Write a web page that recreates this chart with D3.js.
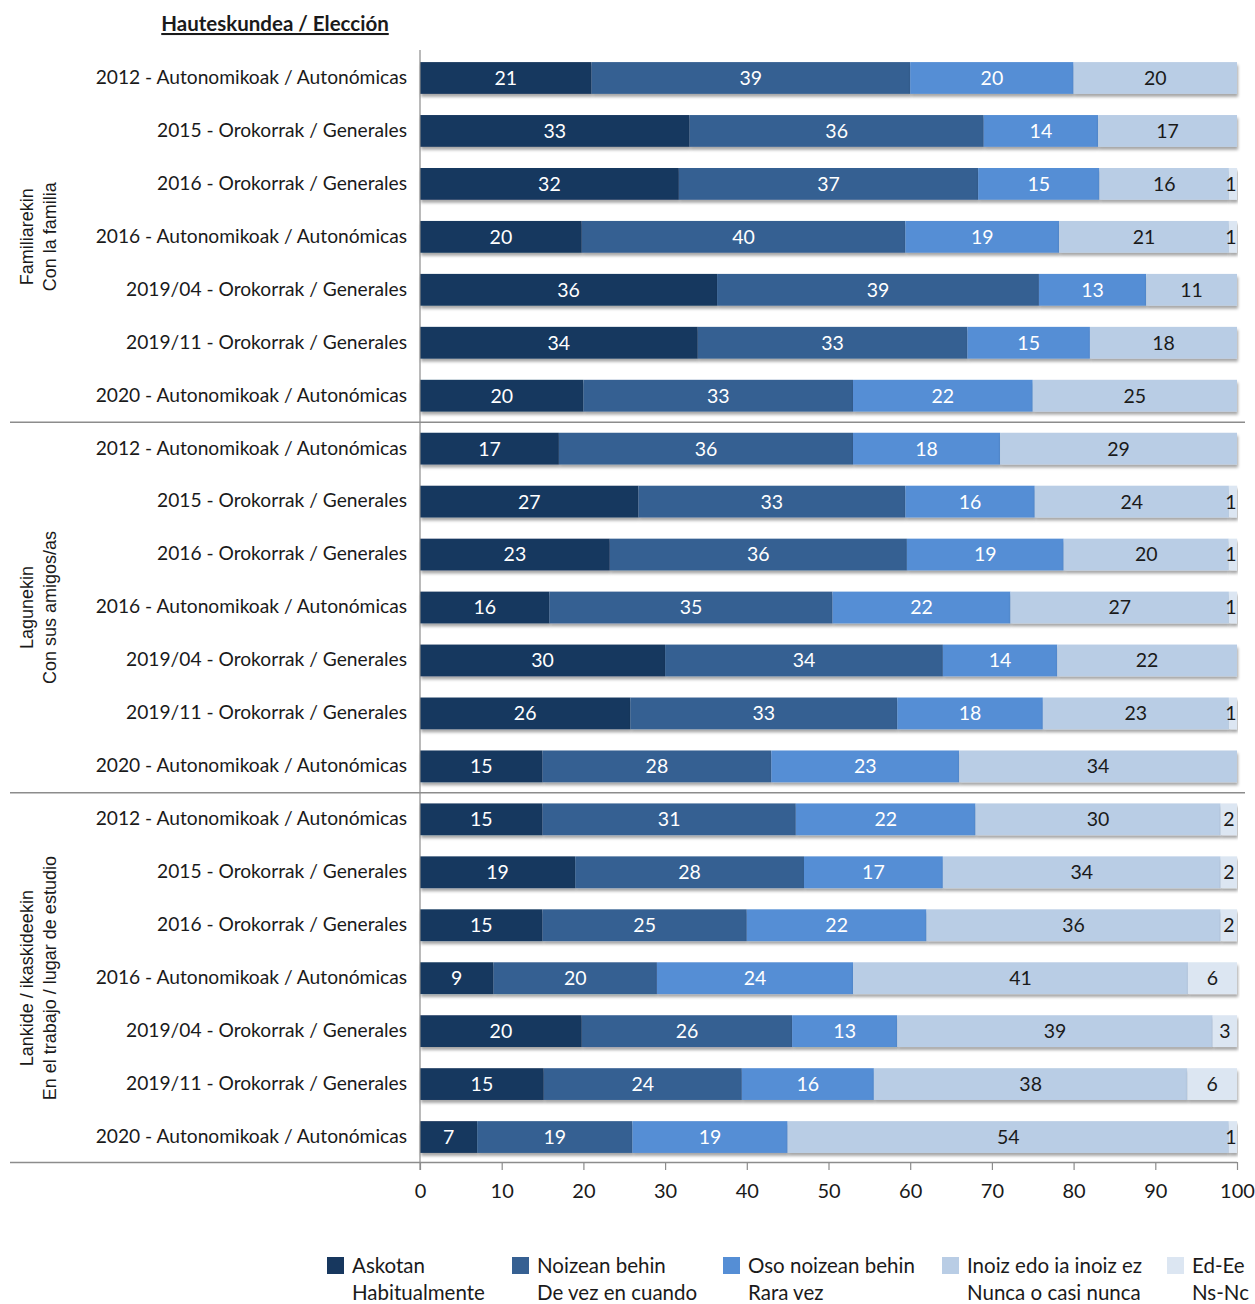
<!DOCTYPE html>
<html><head><meta charset="utf-8">
<script src="https://cdn.jsdelivr.net/npm/d3@7"></script>
<style>body{margin:0;background:#fff}svg{display:block}</style>
</head><body>
<svg id="chart" width="1255" height="1304"></svg>
<script>
const elections = [
  "2012 - Autonomikoak / Autonómicas",
  "2015 - Orokorrak / Generales",
  "2016 - Orokorrak / Generales",
  "2016 - Autonomikoak / Autonómicas",
  "2019/04 - Orokorrak / Generales",
  "2019/11 - Orokorrak / Generales",
  "2020 - Autonomikoak / Autonómicas"
];
const groups = [
  ["Familiarekin", "Con la familia"],
  ["Lagunekin", "Con sus amigos/as"],
  ["Lankide / ikaskideekin", "En el trabajo / lugar de estudio"]
];
const seriesNames = [
  ["Askotan", "Habitualmente"],
  ["Noizean behin", "De vez en cuando"],
  ["Oso noizean behin", "Rara vez"],
  ["Inoiz edo ia inoiz ez", "Nunca o casi nunca"],
  ["Ed-Ee", "Ns-Nc"]
];
const colors = ["#17375e", "#366092", "#558ed5", "#b9cde5", "#dce6f2"];
const labelColors = ["#ffffff", "#ffffff", "#ffffff", "#1a1a1a", "#1a1a1a"];
// values per group: rows = elections, columns = series
const familia = [
  [21, 39, 20, 20, 0],
  [33, 36, 14, 17, 0],
  [32, 37, 15, 16, 1],
  [20, 40, 19, 21, 1],
  [36, 39, 13, 11, 0],
  [34, 33, 15, 18, 0],
  [20, 33, 22, 25, 0]
];
const amigos = [
  [17, 36, 18, 29, 0],
  [27, 33, 16, 24, 1],
  [23, 36, 19, 20, 1],
  [16, 35, 22, 27, 1],
  [30, 34, 14, 22, 0],
  [26, 33, 18, 23, 1],
  [15, 28, 23, 34, 0]
];
const trabajo = [
  [15, 31, 22, 30, 2],
  [19, 28, 17, 34, 2],
  [15, 25, 22, 36, 2],
  [9, 20, 24, 41, 6],
  [20, 26, 13, 39, 3],
  [15, 24, 16, 38, 6],
  [7, 19, 19, 54, 1]
];
const xTicks = [0, 10, 20, 30, 40, 50, 60, 70, 80, 90, 100];

const groupData = [familia, amigos, trabajo];
const rows = [];
groupData.forEach((g, gi) => g.forEach((vals, ei) => {
  rows.push({ key: gi + "-" + ei, group: gi, label: elections[ei], vals });
}));

const svg = d3.select("#chart");
const font = "Lato, 'Open Sans', sans-serif";

const defs = svg.append("defs");
const f = defs.append("filter").attr("id", "sh").attr("x", "-5%").attr("y", "-20%").attr("width", "110%").attr("height", "160%");
f.append("feDropShadow").attr("dx", 1).attr("dy", 3).attr("stdDeviation", 1.5).attr("flood-color", "#000").attr("flood-opacity", 0.35);

const x = d3.scaleLinear().domain([0, 100]).range([420, 1237]);
const y = d3.scaleBand().domain(rows.map(r => r.key)).range([51.5, 1163.5]).paddingInner(0.4).paddingOuter(0.2);

// stacked, normalized to 100
const stacked = rows.map(r => {
  const tot = d3.sum(r.vals);
  let acc = 0;
  return r.vals.map((v, i) => {
    const s = { row: r, i, v, x0: acc / tot * 100, x1: (acc + v) / tot * 100 };
    acc += v;
    return s;
  });
});

const barG = svg.append("g");
const rowG = barG.selectAll("g.row").data(stacked).join("g").attr("class", "row");
rowG.selectAll("rect").data(d => d.filter(s => s.v > 0)).join("rect")
  .attr("x", s => x(s.x0)).attr("width", s => x(s.x1) - x(s.x0))
  .attr("y", s => y(s.row.key)).attr("height", y.bandwidth())
  .attr("fill", s => colors[s.i]).attr("filter", "url(#sh)");
rowG.selectAll("text").data(d => d.filter(s => s.v > 0)).join("text")
  .attr("x", s => s.i === 4 && s.v === 1 ? x(s.x1) - 6 : (x(s.x0) + x(s.x1)) / 2)
  .attr("y", s => y(s.row.key) + y.bandwidth() / 2 + 2)
  .attr("text-anchor", "middle").attr("dominant-baseline", "middle")
  .attr("font-family", font).attr("font-size", 19.5)
  .attr("fill", s => labelColors[s.i]).text(s => s.v);

// category labels
svg.append("g").selectAll("text").data(rows).join("text")
  .attr("x", 407).attr("y", r => y(r.key) + y.bandwidth() / 2 + 1)
  .attr("text-anchor", "end").attr("dominant-baseline", "middle")
  .attr("font-family", font).attr("font-size", 19.2).attr("fill", "#1a1a1a")
  .text(r => r.label);

// axes lines
const lineColor = "#8c8c8c";
svg.append("line").attr("x1", 420).attr("x2", 420).attr("y1", 50).attr("y2", 1170)
  .attr("stroke", lineColor).attr("stroke-width", 1.2);
const ax = d3.axisBottom(x).tickValues(xTicks).tickSize(8).tickSizeOuter(0);
const axG = svg.append("g").attr("transform", "translate(0,1162)").call(ax);
axG.select(".domain").remove();
axG.selectAll(".tick line").attr("stroke", lineColor).attr("stroke-width", 1.2);
axG.selectAll(".tick text").attr("font-family", font).attr("font-size", 20).attr("fill", "#1a1a1a").attr("dy", "0.9em").attr("y", 18);
svg.append("line").attr("x1", 10).attr("x2", 1237).attr("y1", 1162.5).attr("y2", 1162.5)
  .attr("stroke", lineColor).attr("stroke-width", 1.5);

// group separators
const sepKeys = ["0-6", "1-6"];
sepKeys.forEach(k => {
  const yy = y(k) + y.bandwidth() + y.step() * y.paddingInner() / 2;
  svg.append("line").attr("x1", 10).attr("x2", 1245).attr("y1", yy).attr("y2", yy)
    .attr("stroke", lineColor).attr("stroke-width", 1.5);
});

// group labels
groups.forEach((g, gi) => {
  const cy = (y(gi + "-0") + y(gi + "-6") + y.bandwidth()) / 2;
  const t = svg.append("text").attr("transform", `translate(38,${cy}) rotate(-90)`)
    .attr("text-anchor", "middle").attr("font-family", "'Liberation Sans', Arial, sans-serif")
    .attr("font-size", 18).attr("fill", "#1a1a1a");
  t.append("tspan").attr("x", 0).attr("dy", "-0.3em").text(g[0]);
  t.append("tspan").attr("x", 0).attr("dy", "1.3em").text(g[1]);
});

// title
svg.append("text").attr("x", 275).attr("y", 31).attr("text-anchor", "middle")
  .attr("font-family", font).attr("font-weight", "bold").attr("font-size", 20.5)
  .attr("text-decoration", "underline").attr("fill", "#1a1a1a").text("Hauteskundea / Elección");

// legend
const legX = [327, 512, 723, 942, 1167];
const leg = svg.append("g").selectAll("g").data(seriesNames).join("g")
  .attr("transform", (d, i) => `translate(${legX[i]},1257)`);
leg.append("rect").attr("width", 17).attr("height", 17).attr("fill", (d, i) => colors[i]);
leg.append("text").attr("x", 25).attr("y", 16).attr("font-family", font).attr("font-size", 20.5).attr("fill", "#1a1a1a").text(d => d[0]);
leg.append("text").attr("x", 25).attr("y", 43).attr("font-family", font).attr("font-size", 20.5).attr("fill", "#1a1a1a").text(d => d[1]);
</script>
</body></html>
